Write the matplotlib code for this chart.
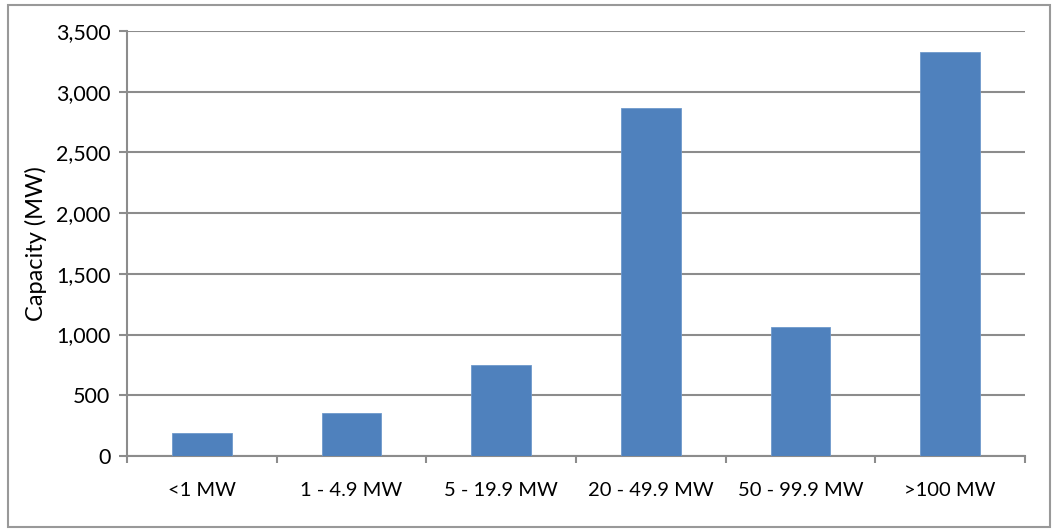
import numpy as np
import matplotlib.pyplot as plt
from matplotlib.patches import Rectangle

categories = ['<1 MW', '1 - 4.9 MW', '5 - 19.9 MW', '20 - 49.9 MW', '50 - 99.9 MW', '>100 MW']
capacity = [190, 352, 747, 2868, 1060, 3325]
yticks = [0, 500, 1000, 1500, 2000, 2500, 3000, 3500]

plt.rcParams['font.family'] = ['Lato', 'DejaVu Sans']
grey = '#8c8c8c'

fig = plt.figure(figsize=(10.52, 5.29), dpi=100)
ax = fig.add_axes([127/1052, 1 - 456/529, (1025 - 127)/1052, (456 - 31)/529])

x = np.arange(len(categories))
ax.bar(x, capacity, width=0.4, color='#4f81bd', edgecolor='#6f99cc', linewidth=0.6, zorder=3)

ax.set_xlim(-0.5, len(categories) - 0.5)
ax.set_ylim(0, 3500)
ax.set_yticks(yticks)
ax.set_yticklabels([f'{v:,}' for v in yticks], fontsize=15.5)
ax.set_xticks(x)
ax.set_xticklabels(categories, fontsize=14.5)
ax.set_xticks(np.arange(len(categories) + 1) - 0.5, minor=True)
ax.tick_params(axis='x', which='major', length=0, pad=19)
ax.tick_params(axis='x', which='minor', length=5, width=1.5, color=grey, direction='out')
ax.tick_params(axis='y', length=6, width=1.5, color=grey, direction='out', pad=6)

ax.grid(axis='y', color=grey, linewidth=1.5, zorder=0)
for s in ['top', 'right']:
    ax.spines[s].set_visible(False)
for s in ['left', 'bottom']:
    ax.spines[s].set_color(grey)
    ax.spines[s].set_linewidth(1.5)

ax.set_ylabel('Capacity (MW)', fontsize=17, labelpad=6)

fig.patches.append(Rectangle((8/1052, 1 - 527/529), 1042/1052, 522/529,
                             transform=fig.transFigure, fill=False,
                             edgecolor='#999999', linewidth=1.5))

fig.savefig('out.png', dpi=100)
